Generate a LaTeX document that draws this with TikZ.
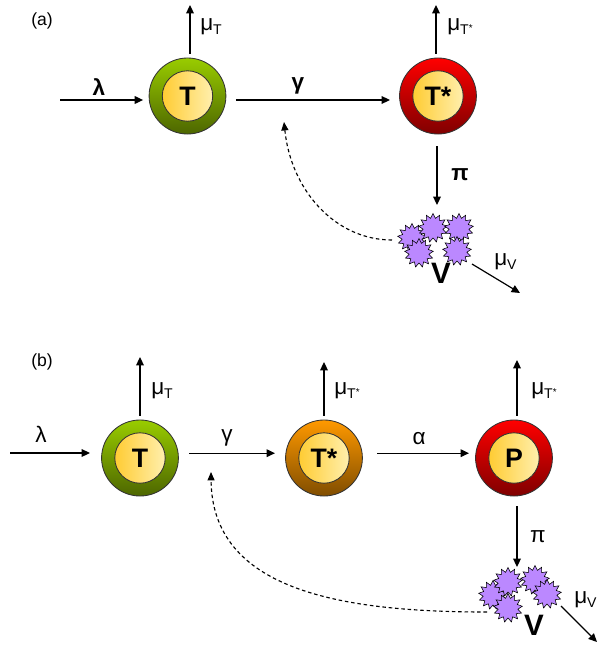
\documentclass[tikz,border=0pt]{standalone}
\usepackage{fontspec}
\setmainfont{Liberation Sans}
\usetikzlibrary{arrows.meta,shapes.geometric}
\definecolor{virus}{HTML}{BB88FF}
\definecolor{leaftop}{HTML}{99CC00}
\definecolor{leafbot}{HTML}{4D6600}
\definecolor{ambertop}{HTML}{FF9900}
\definecolor{amberbot}{HTML}{804D00}
\definecolor{coreleft}{HTML}{FFCC33}
\definecolor{coreright}{HTML}{FFEFAD}
\def\sublab#1{\raisebox{-0.35ex}{\fontsize{10}{10}\selectfont #1}}
\def\subtstar{\raisebox{-0.35ex}{\fontsize{10}{10}\selectfont T\raisebox{0.5ex}{\fontsize{7}{7}\selectfont *}}}
\tikzset{
	flow/.style={line width=0.85pt, -{Triangle[length=6pt,width=5.5pt]}},
	feedback/.style={line width=0.8pt, dash pattern=on 2.5pt off 2pt, -{Triangle[length=6pt,width=5pt]}},
	cell/.style={ellipse, draw=black!80, line width=0.6pt, inner sep=0, minimum width=1.92cm, minimum height=1.9cm, outer sep=0.1cm},
	healthy/.style={cell, top color=leaftop, bottom color=leafbot},
	infected/.style={cell, top color=ambertop, bottom color=amberbot},
	producer/.style={cell, top color=red, bottom color=red!50!black},
	core/.style={circle, draw=black!80, line width=0.6pt, inner sep=0, minimum size=1.26cm, left color=coreleft, right color=coreright, font=\fontsize{19}{19}\selectfont\bfseries},
	virion/.style={star, star points=13, star point ratio=1.45, draw=black, line width=0.4pt, fill=virus, inner sep=0, minimum size=0.72cm},
	rate/.style={font=\fontsize{16}{16}\selectfont, inner sep=0},
	ratebold/.style={rate, font=\fontsize{16}{16}\selectfont\bfseries},
	panel/.style={font=\fontsize{12.5}{12.5}\selectfont, inner sep=0},
	bigv/.style={font=\fontsize{21}{21}\selectfont\bfseries, inner sep=0}
}

\begin{document}
\begin{tikzpicture}[x=0.025cm, y=-0.025cm]
	\useasboundingbox (0, 0) rectangle (597, 645);

	%%%%% TOP MODEL %%%%%
	\node[panel] (panelA) at (42, 21) {(a)};

	\node[healthy] (cellT) at (187.5, 96) {};
	\node[core] (coreT) at (cellT) {T};
	\node[producer] (cellI) at (438, 96) {};
	\node[core] (coreI) at (cellI) {T*};

	\coordinate (inA) at (60, 100);
	\coordinate (upT) at (190, 5);
	\coordinate (upI) at (436, 5);
	\coordinate (downI) at (437, 205);
	\draw[flow, shorten >=0.05cm] (inA) -- (inA -| cellT.west);
	\draw[flow] (cellT.north -| upT) -- (upT);
	\draw[flow] (cellI.north -| upI) -- (upI);
	\draw[flow, shorten <=0.15cm, shorten >=0.14cm] ([yshift=-0.1cm]cellT.east) -- ([yshift=-0.1cm]cellI.west);
	\draw[flow, shorten <=0.2cm] (cellI.south -| downI) -- (downI);

	\node[virion] (virA) at (412, 238) {};
	\node[virion] (virB) at (419, 253) {};
	\node[virion] (virC) at (433, 228) {};
	\node[virion] (virD) at (459, 228) {};
	\node[virion] (virE) at (457, 251) {};
	\node[bigv] (labV) at (441, 273) {V};

	\coordinate (outV) at (520, 293);
	\coordinate (fromV) at (472, 264);
	\coordinate (backA) at (392, 240);
	\coordinate (backTip) at (284, 122);
	\draw[flow] (fromV) -- (outV);
	\draw[feedback] (backA) .. controls (335, 240) and (291, 190) .. (backTip);

	\node[ratebold] (labLamA) at (99, 87) {λ};
	\node[rate, anchor=west] (labMuT) at (200, 27) {μ\sublab{T}};
	\node[rate, anchor=west] (labMuI) at (447, 27) {μ\subtstar};
	\node[ratebold] (labGamA) at (298, 86) {γ};
	\node[ratebold] (labPiA) at (460, 175) {π};
	\node[rate, anchor=west] (labMuV) at (494, 262) {μ\sublab{V}};

	%%%%% BOTTOM MODEL %%%%%
	\node[panel] (panelB) at (42, 362) {(b)};

	\node[healthy] (cellU) at (140, 458) {};
	\node[core] (coreU) at (cellU) {T};
	\node[infected] (cellL) at (324, 458) {};
	\node[core] (coreL) at (cellL) {T*};
	\node[producer] (cellP) at (514, 458) {};
	\node[core] (coreP) at (cellP) {P};

	\coordinate (inB) at (10, 453);
	\coordinate (upU) at (140, 357);
	\coordinate (upL) at (324, 362);
	\coordinate (upP) at (517, 360);
	\draw[flow, shorten >=0.19cm] (inB) -- (inB -| cellU.west);
	\draw[flow] (cellU.north -| upU) -- (upU);
	\draw[flow] (cellL.north -| upL) -- (upL);
	\draw[flow] (cellP.north -| upP) -- (upP);
	\draw[flow, shorten <=0.165cm, shorten >=0.165cm] ([yshift=0.12cm]cellU.east) -- ([yshift=0.12cm]cellL.west);
	\draw[flow, shorten <=0.265cm, shorten >=0.065cm] ([yshift=0.12cm]cellL.east) -- ([yshift=0.12cm]cellP.west);

	\node[virion] (virF) at (493, 595) {};
	\node[virion] (virG) at (508, 608) {};
	\node[virion] (virH) at (508, 582) {};
	\node[virion] (virI) at (535, 580) {};
	\node[virion] (virJ) at (547, 594) {};
	\node[bigv] (labVb) at (534, 625) {V};

	\coordinate (downP) at (517, 567);
	\coordinate (outVb) at (597, 642);
	\coordinate (fromVb) at (561, 606);
	\coordinate (backB) at (487, 612);
	\coordinate (backTipB) at (211, 472);
	\draw[flow, shorten <=0.15cm] (cellP.south -| downP) -- (downP);
	\draw[flow] (fromVb) -- (outVb);
	\draw[feedback] (backB) .. controls (340, 612) and (212, 590) .. (backTipB);

	\node[rate] (labLamB) at (41, 434) {λ};
	\node[rate, anchor=west] (labMuU) at (151, 391) {μ\sublab{T}};
	\node[rate, anchor=west] (labMuL) at (334, 391) {μ\subtstar};
	\node[rate, anchor=west] (labMuP) at (531, 391) {μ\subtstar};
	\node[rate] (labGamB) at (227, 438) {γ};
	\node[rate] (labAlp) at (419, 439) {α};
	\node[rate] (labPiB) at (538, 537) {π};
	\node[rate, anchor=west] (labMuVb) at (574, 600) {μ\sublab{V}};
\end{tikzpicture}
\end{document}
